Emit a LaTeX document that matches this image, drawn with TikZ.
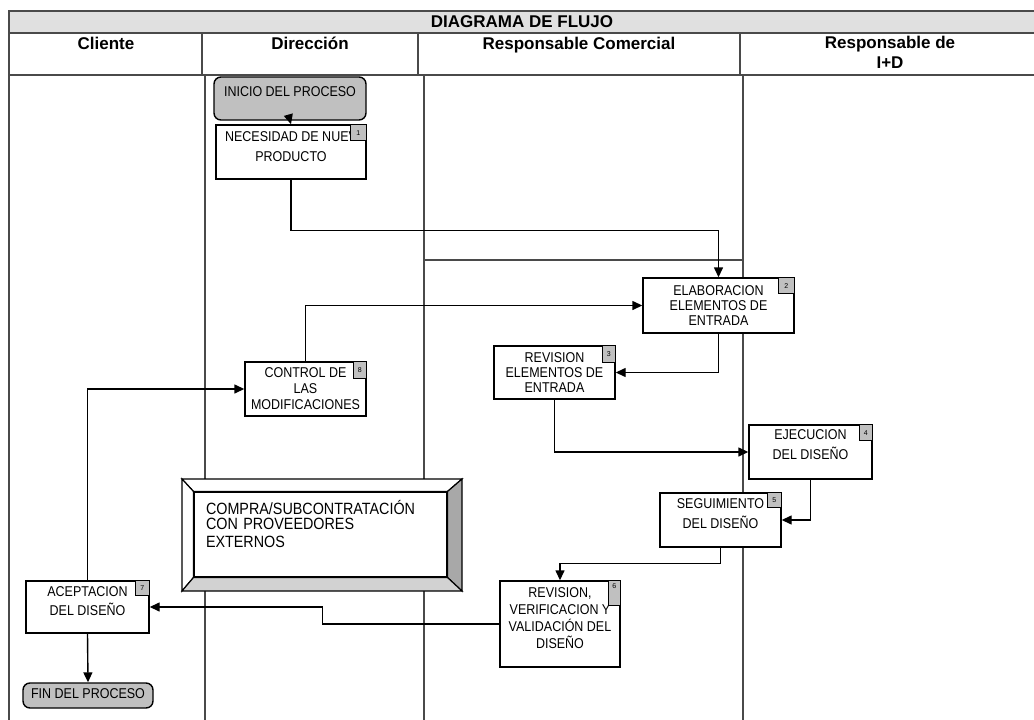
\documentclass[tikz,border=0pt]{standalone}
\usepackage{fontspec}
\setmainfont{Liberation Sans}
\newfontfamily\boxfont[FakeStretch=0.88]{Liberation Sans}
\usetikzlibrary{arrows.meta}

\definecolor{tagfill}{HTML}{C0C0C0}
\definecolor{titlefill}{HTML}{E0E0E0}
\definecolor{lanecol}{HTML}{4A4A4A}
\definecolor{bevdark}{HTML}{A8A8A8}
\definecolor{bevlight}{HTML}{D2D2D2}

% pushes the text of a box upwards
\newcommand{\lift}[1]{\rule[-#1pt]{0pt}{0pt}}

\tikzset{
  lane/.style={draw=lanecol,line width=2pt},
  box/.style n args={3}{draw,fill=white,line width=1.4pt,align=center,inner sep=0pt,
    minimum width=#1pt,minimum height=#2pt,font=\boxfont\fontsize{14.2}{#3}\selectfont},
  term/.style n args={2}{box={#1}{#2}{15},fill=tagfill,rounded corners=7pt},
  tag/.style n args={2}{draw,fill=tagfill,line width=1pt,anchor=north east,inner sep=0pt,
    minimum width=#1pt,minimum height=#2pt,font=\fontsize{7}{8}\selectfont},
  flow/.style={line width=1.4pt,-{Triangle[length=10pt,width=9pt]}},
  head/.style={font=\fontsize{17}{19.5}\selectfont\bfseries,align=center,inner sep=0pt}
}

\begin{document}
\begin{tikzpicture}[x=1pt,y=-1pt]
  \useasboundingbox (0,0) rectangle (1034,720);

  % header
  \fill[titlefill] (9,11) rectangle (1034,33);
  \draw[lane] (1034,11) -- (9,11) -- (9,720);
  \draw[lane] (9,33) -- (1034,33);
  \draw[lane] (9,75) -- (1034,75);
  \foreach \x in {202,418,740}
    \draw[lane] (\x,33) -- (\x,75);
  \node[head] (titulo) at (522,22) {DIAGRAMA DE FLUJO};
  \node[head,anchor=base] (hcli) at (106,49) {Cliente};
  \node[head,anchor=base] (hdir) at (310,49) {Dirección};
  \node[head,anchor=base] (hcom) at (579,49) {Responsable Comercial};
  \node[head,anchor=north] (hid) at (890,36) {Responsable de\\I+D};

  % lanes
  \foreach \x in {205,424,743}
    \draw[lane] (\x,75) -- (\x,720);
  \coordinate (l2) at (424,260);
  \coordinate (l3) at (743,260);
  \draw[lane] (l2) -- (l3);

  % compra / subcontratacion
  \coordinate (cnw) at (182,479);
  \coordinate (cne) at (462,479);
  \coordinate (cse) at (462,591);
  \coordinate (csw) at (182,591);
  \node[draw,fill=white,line width=1.2pt,minimum width=253pt,minimum height=85pt,
    text width=229pt,inner xsep=12pt,inner ysep=0pt,align=left,
    font=\boxfont\fontsize{16.3}{15}\selectfont] (compra) at (320.5,534.5)
    {COMPRA/SUBCONTRATACIÓN\\CON PROVEEDORES\\[3pt]EXTERNOS\lift{21}};
  \begin{scope}[line width=1.2pt]
    \draw[fill=white] (cnw) -- (cne) -- (compra.north east) -- (compra.north west) -- cycle;
    \draw[fill=white] (cnw) -- (compra.north west) -- (compra.south west) -- (csw) -- cycle;
    \draw[fill=bevdark] (cne) -- (cse) -- (compra.south east) -- (compra.north east) -- cycle;
    \draw[fill=bevlight] (csw) -- (cse) -- (compra.south east) -- (compra.south west) -- cycle;
  \end{scope}

  % steps
  \node[term={152}{43}] (inicio) at (290,98.5) {INICIO DEL PROCESO\lift{13}};
  \node[box={150}{54}{20}] (1) at (291,152) {NECESIDAD DE NUEV\\PRODUCTO\lift{11}};
  \node[box={151}{55}{15}] (2) at (718.5,305.5) {ELABORACION\\ELEMENTOS DE\\ENTRADA};
  \node[box={121}{53}{15}] (3) at (554.5,372.5) {REVISION\\ELEMENTOS DE\\ENTRADA};
  \node[box={123}{54}{20}] (4) at (810.5,452) {EJECUCION\\DEL DISEÑO\lift{14}};
  \node[box={121}{54}{20}] (5) at (720.5,520) {SEGUIMIENTO\\DEL DISEÑO\lift{13}};
  \node[box={120}{86}{17}] (6) at (560,624) {REVISION,\\VERIFICACION Y\\VALIDACIÓN DEL\\DISEÑO\lift{11}};
  \node[box={123}{52}{19}] (7) at (87.5,607) {ACEPTACION\\DEL DISEÑO\lift{12}};
  \node[box={121}{54}{16}] (8) at (305.5,389) {CONTROL DE\\LAS\\MODIFICACIONES};
  \node[term={130}{25}] (fin) at (88,695.5) {FIN DEL PROCESO\lift{4}};

  % step numbers
  \node[tag={16}{16}] (t1) at (1.north east) {1};
  \node[tag={16}{16}] (t2) at (2.north east) {2};
  \node[tag={13}{17}] (t3) at (3.north east) {3};
  \node[tag={13}{16}] (t4) at (4.north east) {4};
  \node[tag={14}{15}] (t5) at (5.north east) {5};
  \node[tag={12}{25}] (t6) at (6.north east) {6\lift{14}};
  \node[tag={14}{15}] (t7) at (7.north east) {7};
  \node[tag={13}{17}] (t8) at (8.north east) {8};

  % flow
  \draw[flow] (inicio.south) -- (1.north);
  \draw[flow] (1.south) -- ++(0,51) -| (2.north);
  \draw[flow] (2.south) |- (3.east);
  \draw[flow] (3.south) |- (4.west);
  \draw[flow] (4.south) |- (5.east);
  \draw[flow] (5.south) -- ++(0,16) -| (6.north);
  \draw[flow] (6.west) -- ++(-177,0) |- (7.east);
  \draw[flow] (7.south) -- (fin.north);
  \draw[flow] (7.north) |- (8.west);
  \draw[flow] (8.north) |- (2.west);

\end{tikzpicture}
\end{document}
